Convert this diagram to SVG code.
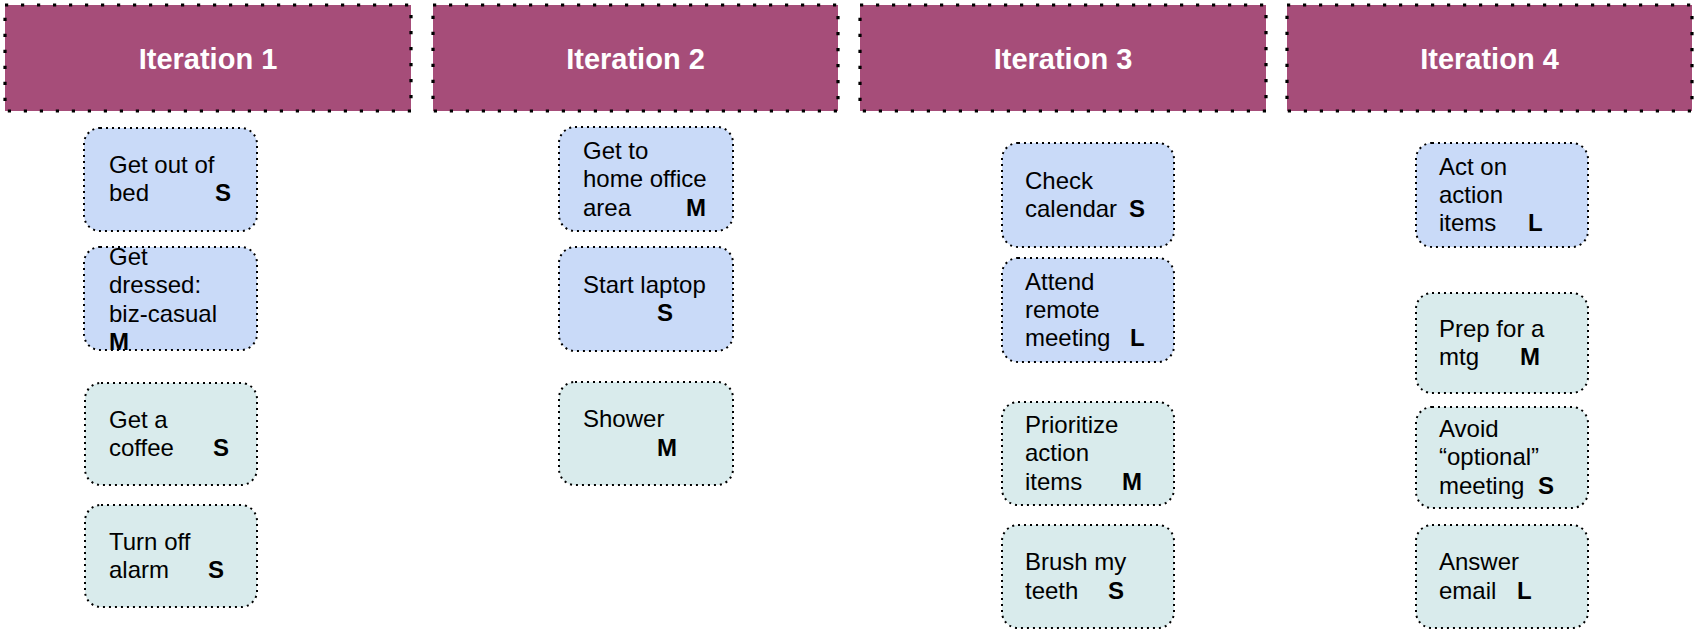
<svg xmlns="http://www.w3.org/2000/svg" width="1694" height="633" viewBox="0 0 1694 633">
<style>
.hdr{fill:#a64d79;stroke:#000;stroke-width:3.2;stroke-dasharray:3.2 12.8}
.ht{font-family:"Liberation Sans",Arial,sans-serif;font-weight:bold;font-size:29px;fill:#fff;text-anchor:middle}
.card{stroke:#000;stroke-width:2;stroke-dasharray:2 4;stroke-linecap:butt}
.blue{fill:#c9daf8}
.teal{fill:#d9ebec}
.t{font-family:"Liberation Sans",Arial,sans-serif;font-size:24px;fill:#000}
.b{font-weight:bold}
</style>
<rect width="1694" height="633" fill="#fff"/>
<g id="header1"><rect class="hdr" x="5" y="5" width="406" height="106"/><text class="ht" x="208" y="68.5">Iteration 1</text></g>
<g id="header2"><rect class="hdr" x="433" y="5" width="405" height="106"/><text class="ht" x="635.5" y="68.5">Iteration 2</text></g>
<g id="header3"><rect class="hdr" x="860" y="5" width="406" height="106"/><text class="ht" x="1063" y="68.5">Iteration 3</text></g>
<g id="header4"><rect class="hdr" x="1287" y="5" width="405" height="106"/><text class="ht" x="1489.5" y="68.5">Iteration 4</text></g>

<g id="card-get-out-of-bed"><rect class="card blue" x="84" y="128" width="173" height="103" rx="16"/>
<text class="t"><tspan x="109" y="173">Get out of</tspan><tspan x="109" y="201">bed</tspan><tspan class="b" x="215" y="201">S</tspan></text></g>
<g id="card-get-dressed"><rect class="card blue" x="84" y="247" width="173" height="103" rx="16"/>
<text class="t"><tspan x="109" y="265">Get</tspan><tspan x="109" y="293">dressed:</tspan><tspan x="109" y="322">biz-casual</tspan><tspan class="b" x="109" y="350">M</tspan></text></g>
<g id="card-coffee"><rect class="card teal" x="85" y="383" width="172" height="102" rx="16"/>
<text class="t"><tspan x="109" y="428">Get a</tspan><tspan x="109" y="456">coffee</tspan><tspan class="b" x="213" y="456">S</tspan></text></g>
<g id="card-alarm"><rect class="card teal" x="85" y="505" width="172" height="102" rx="16"/>
<text class="t"><tspan x="109" y="550">Turn off</tspan><tspan x="109" y="578">alarm</tspan><tspan class="b" x="208" y="578">S</tspan></text></g>

<g id="card-home-office"><rect class="card blue" x="559" y="127" width="174" height="104" rx="16"/>
<text class="t"><tspan x="583" y="159">Get to</tspan><tspan x="583" y="187">home office</tspan><tspan x="583" y="216">area</tspan><tspan class="b" x="686" y="216">M</tspan></text></g>
<g id="card-laptop"><rect class="card blue" x="559" y="247" width="174" height="104" rx="16"/>
<text class="t"><tspan x="583" y="293">Start laptop</tspan><tspan class="b" x="657" y="321">S</tspan></text></g>
<g id="card-shower"><rect class="card teal" x="559" y="382" width="174" height="103" rx="16"/>
<text class="t"><tspan x="583" y="427">Shower</tspan><tspan class="b" x="657" y="456">M</tspan></text></g>

<g id="card-calendar"><rect class="card blue" x="1002" y="143" width="172" height="104" rx="16"/>
<text class="t"><tspan x="1025" y="189">Check</tspan><tspan x="1025" y="217">calendar</tspan><tspan class="b" x="1129" y="217">S</tspan></text></g>
<g id="card-remote-meeting"><rect class="card blue" x="1002" y="258" width="172" height="104" rx="16"/>
<text class="t"><tspan x="1025" y="290">Attend</tspan><tspan x="1025" y="318">remote</tspan><tspan x="1025" y="346">meeting</tspan><tspan class="b" x="1130" y="346">L</tspan></text></g>
<g id="card-prioritize"><rect class="card teal" x="1002" y="402" width="172" height="103" rx="16"/>
<text class="t"><tspan x="1025" y="433">Prioritize</tspan><tspan x="1025" y="461">action</tspan><tspan x="1025" y="490">items</tspan><tspan class="b" x="1122" y="490">M</tspan></text></g>
<g id="card-teeth"><rect class="card teal" x="1002" y="525" width="172" height="103" rx="16"/>
<text class="t"><tspan x="1025" y="570">Brush my</tspan><tspan x="1025" y="599">teeth</tspan><tspan class="b" x="1108" y="599">S</tspan></text></g>

<g id="card-act-on-items"><rect class="card blue" x="1416" y="143" width="172" height="104" rx="16"/>
<text class="t"><tspan x="1439" y="175">Act on</tspan><tspan x="1439" y="203">action</tspan><tspan x="1439" y="231">items</tspan><tspan class="b" x="1528" y="231">L</tspan></text></g>
<g id="card-prep"><rect class="card teal" x="1416" y="293" width="172" height="100" rx="16"/>
<text class="t"><tspan x="1439" y="337">Prep for a</tspan><tspan x="1439" y="365">mtg</tspan><tspan class="b" x="1520" y="365">M</tspan></text></g>
<g id="card-avoid"><rect class="card teal" x="1416" y="407" width="172" height="101" rx="16"/>
<text class="t"><tspan x="1439" y="437">Avoid</tspan><tspan x="1439" y="465">“optional”</tspan><tspan x="1439" y="494">meeting</tspan><tspan class="b" x="1538" y="494">S</tspan></text></g>
<g id="card-email"><rect class="card teal" x="1416" y="525" width="172" height="103" rx="16"/>
<text class="t"><tspan x="1439" y="570">Answer</tspan><tspan x="1439" y="599">email</tspan><tspan class="b" x="1517" y="599">L</tspan></text></g>

<g id="connectors"></g>
</svg>
